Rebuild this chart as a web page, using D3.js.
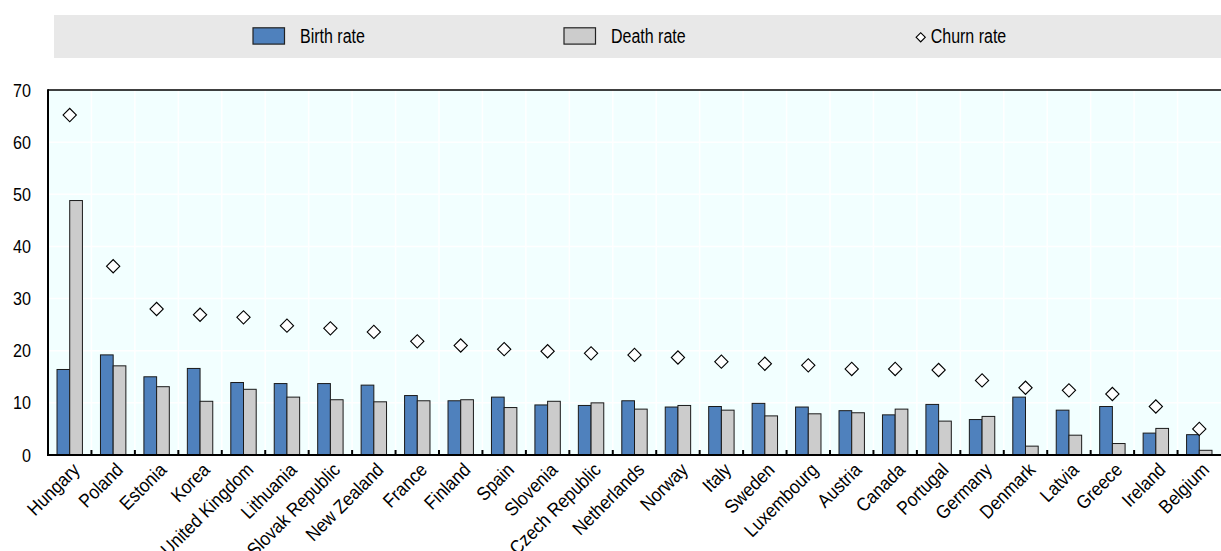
<!DOCTYPE html>
<html><head><meta charset="utf-8">
<script src="https://cdn.jsdelivr.net/npm/d3@7"></script>
<style>
body{margin:0;background:#fff;}
svg text{font-family:"Liberation Sans",Arial,sans-serif;fill:#000;}
</style></head>
<body>
<svg id="chart" width="1221" height="551"></svg>
<script>
const countries = ["Hungary","Poland","Estonia","Korea","United Kingdom","Lithuania","Slovak Republic","New Zealand","France","Finland","Spain","Slovenia","Czech Republic","Netherlands","Norway","Italy","Sweden","Luxembourg","Austria","Canada","Portugal","Germany","Denmark","Latvia","Greece","Ireland","Belgium"];
const birthRate = [16.4,19.2,15.0,16.6,13.9,13.7,13.7,13.4,11.4,10.4,11.1,9.6,9.5,10.4,9.2,9.3,9.9,9.2,8.5,7.7,9.7,6.8,11.1,8.6,9.3,4.2,3.9];
const deathRate = [48.8,17.1,13.1,10.3,12.6,11.1,10.6,10.2,10.4,10.6,9.1,10.3,10.0,8.8,9.5,8.6,7.5,7.9,8.1,8.8,6.5,7.4,1.7,3.8,2.2,5.1,0.9];
const churnRate = [65.2,36.2,28.0,26.9,26.4,24.8,24.3,23.6,21.8,21.0,20.3,19.9,19.5,19.2,18.7,17.9,17.5,17.2,16.5,16.5,16.3,14.3,12.9,12.4,11.7,9.3,5.0];
const yTicks = [0,10,20,30,40,50,60,70];
const seriesNames = ["Birth rate","Death rate","Churn rate"];

(function(){
const svg = d3.select("#chart");
const W = 1221;
const pL = 48, pR = 1221, pT = 90, pB = 455;
const blue = "#4F81BD", grey = "#CCCCCC";
function narrow(sel, f){
  sel.each(function(){
    const l = this.getComputedTextLength();
    d3.select(this).attr("textLength", l*f).attr("lengthAdjust","spacingAndGlyphs");
  });
}

// Legend
svg.append("rect").attr("x",54).attr("y",15).attr("width",W-54).attr("height",43).attr("fill","#E8E8E8");
const lg = svg.append("g");
[[seriesNames[0],blue,253],[seriesNames[1],grey,564]].forEach(([name,col,x])=>{
  lg.append("rect").attr("x",x).attr("y",27.8).attr("width",31.5).attr("height",16.3).attr("fill",col).attr("stroke","#222").attr("stroke-width",1.2);
  lg.append("text").attr("x",x+47).attr("y",42.7).attr("font-size",19.5).text(name);
});
lg.append("path").attr("d",d3.symbol(d3.symbolSquare,42)()).attr("transform","translate(920.7,37.3) rotate(45)")
  .attr("fill","#fff").attr("stroke","#000").attr("stroke-width",1.1);
lg.append("text").attr("x",930.7).attr("y",42.7).attr("font-size",19.5).text(seriesNames[2]);
narrow(lg.selectAll("text"), 0.82);

// Scales
const x = d3.scaleBand().domain(countries).range([pL,pR]).paddingInner(0).paddingOuter(0);
const x1 = d3.scaleBand().domain(["b","d"]).range([0,x.bandwidth()]).paddingInner(0).paddingOuter(0.71);
const y = d3.scaleLinear().domain([0,70]).range([pB,pT]);

// Plot background
svg.append("rect").attr("x",pL).attr("y",pT).attr("width",pR-pL).attr("height",pB-pT).attr("fill","#F2FFFF");

// Grid
const grid = svg.append("g");
yTicks.filter(t=>t>0&&t<70).forEach(t=>{
  grid.append("line").attr("x1",pL).attr("x2",pR).attr("y1",y(t)).attr("y2",y(t)).attr("stroke","#fff").attr("stroke-width",1.5);
});
countries.slice(1).forEach(c=>{
  grid.append("line").attr("x1",x(c)).attr("x2",x(c)).attr("y1",pT).attr("y2",pB).attr("stroke","#fff").attr("stroke-width",1.5);
});

// Bars
const g = svg.append("g");
countries.forEach((c,i)=>{
  g.append("rect").attr("x",x(c)+x1("b")).attr("y",y(birthRate[i])).attr("width",x1.bandwidth()).attr("height",y(0)-y(birthRate[i]))
    .attr("fill",blue).attr("stroke","#1a1a1a").attr("stroke-width",1);
  g.append("rect").attr("x",x(c)+x1("d")).attr("y",y(deathRate[i])).attr("width",x1.bandwidth()).attr("height",y(0)-y(deathRate[i]))
    .attr("fill",grey).attr("stroke","#1a1a1a").attr("stroke-width",1);
});
// Churn markers
const sym = d3.symbol(d3.symbolSquare,88)();
countries.forEach((c,i)=>{
  g.append("path").attr("d",sym).attr("transform",`translate(${x(c)+x.bandwidth()/2},${y(churnRate[i])}) rotate(45)`)
    .attr("fill","#fff").attr("stroke","#000").attr("stroke-width",1.1);
});

// Axes frame
svg.append("line").attr("x1",pL).attr("x2",pR).attr("y1",pT).attr("y2",pT).attr("stroke","#000").attr("stroke-width",1.5);
svg.append("line").attr("x1",pL).attr("x2",pL).attr("y1",pT-0.75).attr("y2",pB+1).attr("stroke","#000").attr("stroke-width",2);
svg.append("line").attr("x1",pL).attr("x2",pR).attr("y1",pB).attr("y2",pB).attr("stroke","#000").attr("stroke-width",2);
countries.slice(1).forEach(c=>{
  svg.append("line").attr("x1",x(c)).attr("x2",x(c)).attr("y1",pB).attr("y2",pB-5).attr("stroke","#000").attr("stroke-width",2);
});

// Y axis labels
const ya = svg.append("g").attr("transform",`translate(${pL},0)`)
  .call(d3.axisLeft(y).tickValues(yTicks).tickSize(0).tickPadding(17).tickFormat(d3.format("d")));
ya.select(".domain").remove();
ya.selectAll("text").attr("font-size",19).attr("font-family",null);
narrow(ya.selectAll("text"), 0.85);

// X axis labels
const xa = svg.append("g").attr("transform",`translate(0,${pB})`)
  .call(d3.axisBottom(x).tickSize(0).tickPadding(0));
xa.select(".domain").remove();
xa.selectAll("text").attr("font-size",19).attr("font-family",null)
  .attr("text-anchor","end").attr("dy",null).attr("y",0)
  .attr("transform","translate(11,16) rotate(-45)");
narrow(xa.selectAll("text"), 0.9);
})();
</script>
</body></html>
